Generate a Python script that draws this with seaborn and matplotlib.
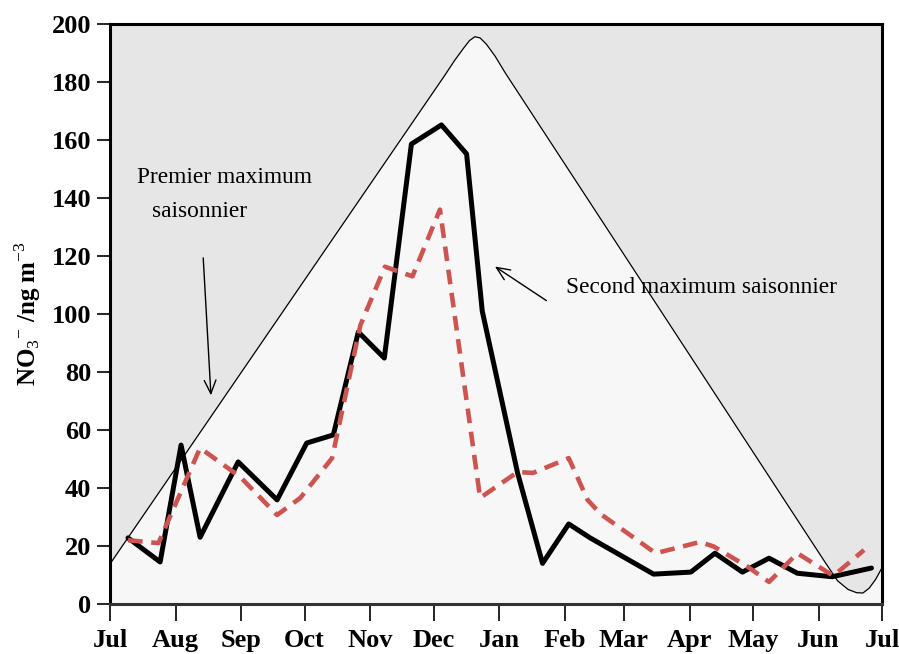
import numpy as np
import matplotlib
matplotlib.use('Agg')
import matplotlib.pyplot as plt
import seaborn as sns

# jours depuis le 1er juillet
month_labels = ['Jul', 'Aug', 'Sep', 'Oct', 'Nov', 'Dec', 'Jan', 'Feb', 'Mar', 'Apr', 'May', 'Jun', 'Jul']
month_days = [0, 31, 62, 92, 123, 153, 184, 215, 243, 274, 304, 335, 365]

days_black = [8.5, 23.7, 33.6, 42.6, 60.6, 79, 93, 105.6, 117.4, 129.7, 142.5, 156.7, 168.6, 176,
              192.7, 204.5, 216.9, 227, 257, 274.6, 286, 299, 311.6, 325, 341.4, 360]
nitrate_black = [22.8, 14.5, 54.8, 23, 49, 35.9, 55.5, 58.3, 93.8, 84.8, 158.6, 165.2, 155.2, 101,
                 45.2, 14, 27.6, 22.8, 10.3, 11, 17.5, 11, 15.8, 10.6, 9.4, 12.4]

days_red = [8.5, 22.9, 42.6, 61.6, 79, 90, 105, 118.4, 130, 143, 156, 175, 192.7, 200, 216.9,
            225.8, 232, 258, 279, 285.5, 301.6, 311.6, 325, 342, 356.5]
nitrate_red = [22, 21, 53.8, 43.8, 30.7, 36.6, 50.3, 96.2, 116.3, 113, 136, 36.6, 45.5, 45.2, 50.3,
               35.9, 31, 17.5, 21.4, 19.8, 12.8, 7.6, 17.5, 9.7, 18.6]

# enveloppe saisonniere
env_days = [0, 158, 163, 167, 170, 172.5, 175, 178, 182, 187, 338, 344, 349, 353, 356, 359, 362, 365]
env_vals = [13.8, 182, 187.5, 191.5, 194.3, 195.6, 195.2, 193, 189, 183, 14.5, 8, 5, 3.9, 3.8, 5.5, 8.5, 12.5]

sns.set_theme(style='ticks')
plt.rcParams['font.family'] = ['Liberation Serif', 'DejaVu Serif']
plt.rcParams['mathtext.fontset'] = 'custom'
plt.rcParams['mathtext.rm'] = 'Liberation Serif'
plt.rcParams['mathtext.bf'] = 'Liberation Serif:bold'
plt.rcParams['text.color'] = 'black'
plt.rcParams['axes.labelcolor'] = 'black'

fig = plt.figure(figsize=(8.99, 6.54), dpi=100)
ax = fig.add_axes([110/899, 50/654, 772/899, 580/654])
ax.set_facecolor('#e6e6e6')

ax.fill_between(env_days, env_vals, 0, color='#f7f7f7', zorder=1)
sns.lineplot(x=env_days, y=env_vals, color='black', linewidth=0.9, ax=ax, zorder=2)
sns.lineplot(x=days_black, y=nitrate_black, color='black', linewidth=3.6, ax=ax, zorder=3)
sns.lineplot(x=days_red, y=nitrate_red, color='#cd5551', linewidth=3.3, ax=ax, zorder=4)
ax.lines[-1].set_dashes([3.2, 1.9])

ax.set_xlim(0, 365)
ax.set_ylim(0, 200)
ax.set_xticks(month_days)
ax.set_xticklabels(month_labels, fontsize=19, fontweight='bold')
ax.set_yticks(range(0, 201, 20))
ax.set_yticklabels([str(v) for v in range(0, 201, 20)], fontsize=19, fontweight='bold')
ax.tick_params(axis='x', length=12, width=1.2, pad=6, colors='black')
ax.tick_params(axis='y', length=9.5, width=1.2, pad=4, colors='black')
for s in ax.spines.values():
    s.set_visible(True)
    s.set_linewidth(2.2)
    s.set_color('black')
ax.spines['bottom'].set_color('#333333')

ax.set_ylabel(r'NO$_{\mathrm{3}}$$^{\mathrm{-}}$ /ng m$^{\mathrm{-3}}$', fontsize=18,
              fontweight='bold', labelpad=6)

ax.text(12.8, 146.9, 'Premier maximum', fontsize=16.8, va='center', ha='left')
ax.text(19.9, 135.2, 'saisonnier', fontsize=16.8, va='center', ha='left')
ax.annotate('', xy=(47.8, 71), xytext=(44, 120.3),
            arrowprops=dict(arrowstyle='->,head_length=0.8,head_width=0.35', color='black', lw=1.0))
ax.text(215.4, 109, 'Second maximum saisonnier', fontsize=16.8, va='center', ha='left')
ax.annotate('', xy=(180.9, 116.9), xytext=(207.4, 104.1),
            arrowprops=dict(arrowstyle='->,head_length=0.8,head_width=0.35', color='black', lw=1.0))

fig.savefig('out.png', dpi=100)
